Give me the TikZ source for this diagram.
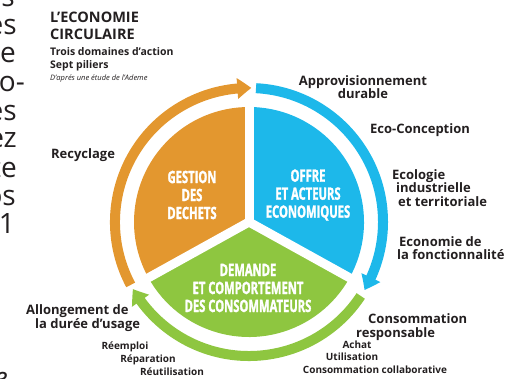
\documentclass[tikz,border=0pt]{standalone}
\usepackage{fontspec}
\setmainfont{Open Sans}
\newfontfamily\slicefont[FakeStretch=0.66, BoldFeatures={FakeBold=1.6}]{Open Sans}
\usepackage{xcolor}
\usepackage{tikz}
\usetikzlibrary{positioning, arrows.meta, bending}

\definecolor{wasteorange}{HTML}{E3972F}
\definecolor{offerblue}{HTML}{1DB8EA}
\definecolor{demandgreen}{HTML}{8EC640}
\definecolor{inkgray}{HTML}{231F20}

\begin{document}
\begin{tikzpicture}[x=1pt, y=1pt,
  pillar/.style={font=\fontsize{13}{13.5}\selectfont\bfseries, text=inkgray,
                 align=center, inner sep=0pt},
  action/.style={font=\fontsize{10}{12}\selectfont\bfseries, text=inkgray, inner sep=0pt},
  slice/.style={font=\slicefont\fontsize{17}{18}\selectfont\bfseries, text=white,
                align=center, inner sep=0pt},
  ring/.style={line width=10pt, -{Triangle[width=20pt, length=14pt, bend]}},
  pagetext/.style={font=\fontsize{28}{28}\selectfont, text=inkgray, anchor=base east,
                   inner sep=0pt}
]
  \useasboundingbox (0,0) rectangle (505,378);

  % cut-off text of the page
  \begin{scope}
    \clip (0,0) rectangle (505,378);
    \node[pagetext] (frag1) at (15,371) {us};
    \node[pagetext] (frag2) at (17,343) {es};
    \node[pagetext] (frag3) at (16,315) {le};
    \node[pagetext] (frag4) at (25,286) {o-};
    \node[pagetext] (frag5) at (17,258) {es};
    \node[pagetext] (frag6) at (17,230) {ez};
    \node[pagetext] (frag7) at (17,201) {te};
    \node[pagetext] (frag8) at (16,173) {os};
    \node[pagetext] (frag9) at (15,145) {11};
    \node[pagetext, font=\fontsize{28}{28}\selectfont\itshape] (frag10) at (8,-9) {e};
  \end{scope}

  % title
  \node[anchor=north west, inner sep=0pt, align=left, text=inkgray,
        font=\fontsize{14.5}{17}\selectfont\bfseries] (title) at (50,366)
        {L'ECONOMIE\\CIRCULAIRE};
  \node[below=7pt of title.south west, anchor=north west, inner sep=0pt, align=left,
        text=inkgray, font=\fontsize{10.5}{13}\selectfont\bfseries] (pillars)
        {Trois domaines d'action\\Sept piliers};
  \node[below=4pt of pillars.south west, anchor=north west, inner sep=0pt, text=inkgray,
        font=\fontsize{7.5}{9}\selectfont\itshape] (source)
        {D'aprés une étude de l'Ademe};

  % pie and ring
  \begin{scope}[shift={(249,156)}]
    \fill[wasteorange] (0,0) -- (90:115) arc[start angle=90, end angle=209, radius=115] -- cycle;
    \fill[offerblue] (0,0) -- (-29:115) arc[start angle=-29, end angle=90, radius=115] -- cycle;
    \fill[demandgreen] (0,0) -- (209:115) arc[start angle=209, end angle=331, radius=115] -- cycle;
    \foreach \a in {90, 209, 331}
      \draw[white, line width=9pt] (0,0) -- (\a:118);

    \draw[ring, wasteorange] (208:134) arc[start angle=208, end angle=89, radius=134];
    \draw[ring, offerblue] (87:134) arc[start angle=87, end angle=-30.5, radius=134];
    \draw[ring, demandgreen] (-33.5:134) arc[start angle=-33.5, end angle=-150, radius=134];
  \end{scope}

  \node[slice] (waste) at (192,183) {GESTION\\DES\\DECHETS};
  \node[slice] (offer) at (308,183) {OFFRE\\ET ACTEURS\\ECONOMIQUES};
  \node[slice] (demand) at (248,90) {DEMANDE\\ET COMPORTEMENT\\DES CONSOMMATEURS};

  % pillars round the ring
  \node[pillar] (supply) at (363,291) {Approvisionnement\\durable};
  \node[pillar] (ecodesign) at (420,248) {Eco-Conception};
  \node[pillar, anchor=west, align=left] (ecology) at (392,190)
        {Ecologie\\\hspace*{4pt}industrielle\\\hspace*{6pt}et territoriale};
  \node[pillar, anchor=west, align=left] (functional) at (397,130)
        {\hspace*{2pt}Economie de\\la fonctionnalité};
  \node[pillar, anchor=west, align=left] (consumption) at (356,51)
        {\hspace*{12pt}Consommation\\responsable};
  \node[action] (purchase) at (357,33) {Achat};
  \node[action] (usage) at (352,21) {Utilisation};
  \node[action] (sharing) at (375,8) {Consommation collaborative};
  \node[pillar, anchor=west, align=left] (lifespan) at (26,60)
        {Allongement de\\\hspace*{9pt}la durée d'usage};
  \node[action] (reuse) at (125,31) {Réemploi};
  \node[action] (repair) at (148,18) {Réparation};
  \node[action] (reutil) at (172,6) {Réutilisation};
  \node[pillar] (recycling) at (83,223) {Recyclage};
\end{tikzpicture}
\end{document}
